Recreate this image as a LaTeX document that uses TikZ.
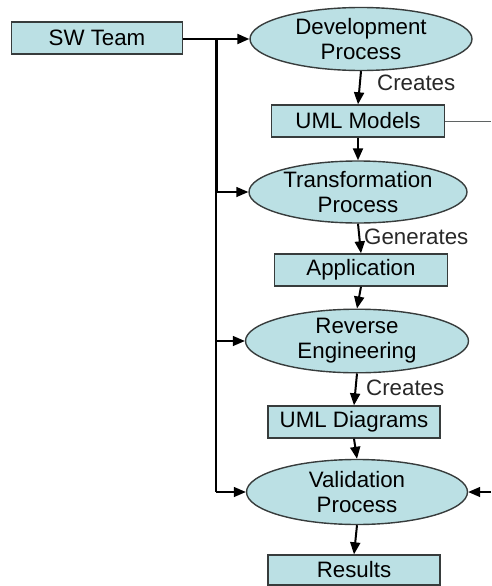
\documentclass[tikz,border=0pt]{standalone}
\usepackage{fontspec}
\setmainfont{Liberation Sans}
\usetikzlibrary{shapes.geometric,arrows.meta}
\definecolor{boxfill}{RGB}{187,224,228}
\definecolor{boxline}{RGB}{55,60,60}
\definecolor{labeltext}{RGB}{40,40,40}
\tikzset{
  box/.style={draw=boxline,line width=1.4pt,fill=boxfill,rectangle,inner sep=0pt,
    font=\fontsize{22.3}{25}\selectfont},
  proc/.style={draw=boxline,line width=1.4pt,fill=boxfill,ellipse,inner sep=0pt,
    align=center,font=\fontsize{22.3}{25}\selectfont},
  lbl/.style={anchor=west,inner sep=0pt,text=labeltext,font=\fontsize{22.3}{25}\selectfont},
  flow/.style={line width=2pt,-{Triangle[length=12pt,width=10pt]}},
  thinflow/.style={line width=1.4pt,-{Triangle[length=12pt,width=10pt]}},
}
\begin{document}
\begin{tikzpicture}[x=1pt,y=-1pt]
\useasboundingbox (0,0) rectangle (491,586);
\node[box,minimum width=171pt,minimum height=32pt] (sw) at (97,38) {SW Team};
\node[proc,minimum width=222pt,minimum height=63pt] (dev) at (361,39) {Development\\Process};
\node[box,minimum width=173pt,minimum height=32pt] (uml) at (358,121) {UML Models};
\node[proc,minimum width=218pt,minimum height=62pt] (trans) at (358,192) {Transformation\\Process};
\node[box,minimum width=173pt,minimum height=32pt] (app) at (361,270) {Application};
\node[proc,minimum width=223pt,minimum height=63pt] (rev) at (357,341) {Reverse\\Engineering};
\node[box,minimum width=172pt,minimum height=32pt] (umld) at (354,422) {UML Diagrams};
\node[proc,minimum width=221pt,minimum height=65pt] (val) at (357,492) {Validation\\Process};
\node[box,minimum width=172pt,minimum height=30pt] (res) at (354,570) {Results};

\node[lbl] (l1) at (377,83) {Creates};
\node[lbl] (l2) at (364,237) {Generates};
\node[lbl] (l3) at (366,388) {Creates};

\coordinate (t0) at (216,39);
\coordinate (t1) at (216,192);
\coordinate (t2) at (216,341);
\coordinate (t3) at (216,492);
\coordinate (eR) at (491,121);
\coordinate (eV) at (491,492);

\draw[flow] (sw.east |- dev.west) -- (dev.west);
\draw[line width=3pt] (t0) -- (t1);
\draw[line width=1.5pt] (t1) -- (t3);
\draw[thinflow] (t1) -- (trans.west);
\draw[thinflow] (t2) -- (rev.west);
\draw[thinflow] (t3) -- (val.west);
\draw[line width=1pt,draw=boxline!80] (uml.east) -- (eR);
\draw[thinflow] (eV) -- (val.east);

\draw[flow] (dev.south) -- (uml.north);
\draw[flow] (uml.south) -- (trans.north);
\draw[flow] (trans.south) -- (app.north);
\draw[flow] (app.south) -- (rev.north);
\draw[flow] (rev.south) -- (umld.north);
\draw[flow] (umld.south) -- (val.north);
\draw[flow] (val.south) -- (res.north);
\end{tikzpicture}
\end{document}
